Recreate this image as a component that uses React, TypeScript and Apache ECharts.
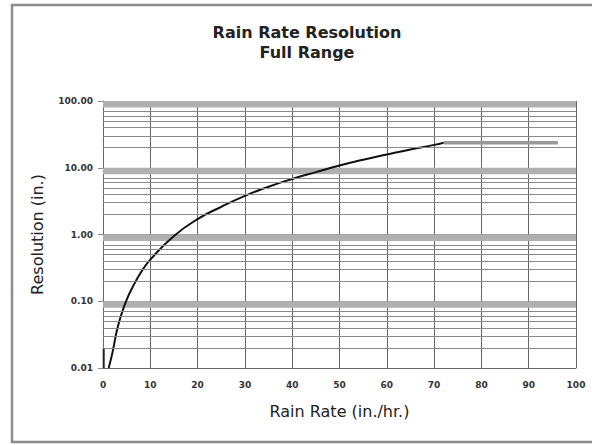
import React, { useEffect, useRef } from "react";
import * as echarts from "echarts";

const titleLines = ["Rain Rate Resolution", "Full Range"];
const xName = "Rain Rate (in./hr.)";
const yName = "Resolution (in.)";

// Curve readings (rain rate, resolution)
const curveX = [1.2, 2, 3, 4, 5, 6, 8, 10, 15, 20, 25, 30, 35, 40, 45, 50, 55, 60, 65, 70, 72];
const curveY = [0.01, 0.017, 0.038, 0.067, 0.105, 0.15, 0.27, 0.42, 0.95, 1.7, 2.6, 3.8, 5.2, 6.8, 8.6, 10.8, 13.2, 15.8, 18.8, 22, 23.7];

// Flat upper segment
const flatX = [72, 96.2];
const flatY = [23.7, 23.7];

// Short vertical mark at left edge
const edgeX = [0.15, 0.15];
const edgeY = [0.01, 0.02];

const decades = [0.01, 0.1, 1, 10];
const minorMultipliers = [2, 3, 4, 5, 6, 7];

const FONT = "DejaVu Sans, Verdana, sans-serif";

export default function App() {
  const ref = useRef<HTMLDivElement>(null);
  useEffect(() => {
    if (!ref.current) return;
    const chart = echarts.init(ref.current, undefined, { renderer: "svg" });
    const minorLines: any[] = [];
    decades.forEach((d) => {
      minorMultipliers.forEach((m) => minorLines.push({ yAxis: +(d * m).toPrecision(6) }));
    });
    const bands: any[] = decades.map((d) => [{ yAxis: +(d * 10 * 0.8).toPrecision(6) }, { yAxis: d * 10 }]);
    chart.setOption({
      animation: false,
      backgroundColor: "#ffffff",
      title: {
        text: titleLines.join("\n"),
        left: 302,
        top: 17,
        textAlign: "center",
        textStyle: {
          fontFamily: FONT,
          fontSize: 16,
          fontWeight: "bold",
          color: "#222",
          lineHeight: 20,
        },
      },
      graphic: [
        {
          type: "rect",
          shape: { x: 12, y: 5, width: 620, height: 437 },
          style: { fill: "none", stroke: "#8c8c8c", lineWidth: 2.5 },
          silent: true,
        },
      ],
      grid: { left: 103, right: 16, top: 101, bottom: 77 },
      xAxis: {
        type: "value",
        min: 0,
        max: 100,
        interval: 10,
        name: xName,
        nameLocation: "middle",
        nameGap: 35,
        nameTextStyle: { fontFamily: FONT, fontSize: 16, color: "#222" },
        axisLine: { show: true, lineStyle: { color: "#666", width: 1 } },
        axisTick: { show: false },
        axisLabel: {
          margin: 12,
          fontFamily: FONT,
          fontSize: 9,
          fontWeight: "bold",
          color: "#333",
        },
        splitLine: { show: true, lineStyle: { color: "#666", width: 1 } },
      },
      yAxis: {
        type: "log",
        logBase: 10,
        min: 0.01,
        max: 100,
        name: yName,
        nameLocation: "middle",
        nameGap: 58,
        nameTextStyle: { fontFamily: FONT, fontSize: 16, color: "#222" },
        axisLine: { show: true, lineStyle: { color: "#666", width: 1 } },
        axisTick: { show: true, length: 5, lineStyle: { color: "#888" } },
        axisLabel: {
          margin: 10,
          fontFamily: FONT,
          fontSize: 9,
          fontWeight: "bold",
          color: "#333",
          formatter: (v: number) => v.toFixed(2),
        },
        splitLine: { show: true, lineStyle: { color: "#999", width: 1 } },
      },
      series: [
        {
          type: "line",
          data: [],
          silent: true,
          markArea: {
            silent: true,
            itemStyle: { color: "#b0b0b0" },
            data: bands,
          },
          markLine: {
            silent: true,
            symbol: "none",
            label: { show: false },
            lineStyle: { color: "#8a8a8a", width: 1, type: "solid" },
            data: minorLines,
          },
        },
        {
          type: "line",
          data: flatX.map((x, i) => [x, flatY[i]]),
          showSymbol: false,
          lineStyle: { color: "#9a9a9a", width: 3.5 },
          z: 3,
        },
        {
          type: "line",
          data: curveX.map((x, i) => [x, curveY[i]]),
          smooth: true,
          showSymbol: false,
          lineStyle: { color: "#111", width: 2 },
          z: 4,
        },
        {
          type: "line",
          data: edgeX.map((x, i) => [x, edgeY[i]]),
          showSymbol: false,
          lineStyle: { color: "#222", width: 2 },
          z: 4,
        },
      ],
    });
    return () => chart.dispose();
  }, []);
  return <div ref={ref} style={{ width: 592, height: 445, position: "absolute", left: 0, top: 0 }} />;
}
